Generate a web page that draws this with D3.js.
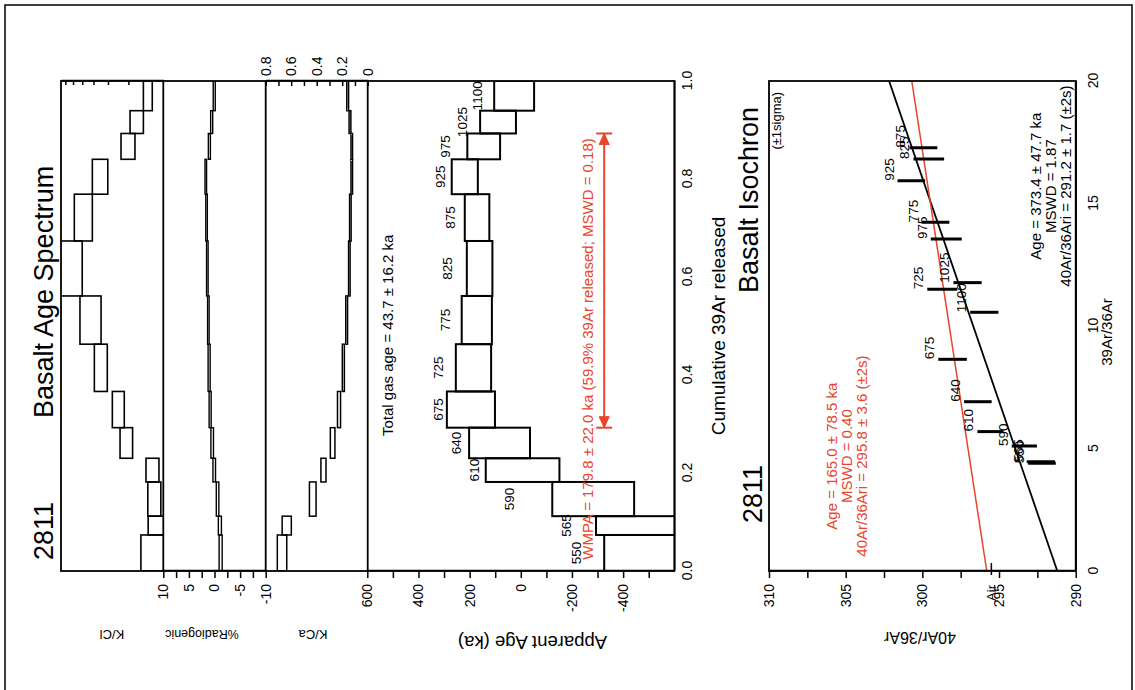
<!DOCTYPE html>
<html>
<head>
<meta charset="utf-8">
<script src="https://cdn.jsdelivr.net/npm/d3@7"></script>
<style>
  body { margin: 0; background: #fff; }
  svg { display: block; font-family: 'Liberation Sans', Arial, sans-serif; }
</style>
</head>
<body>
<div id="chart"></div>
<script>
// Heating steps (deg C) and their 39Ar share (%)
const steps = ['550', '565', '590', '610', '640', '675', '725', '775', '825', '875', '925', '975', '1025', '1100'];
const pct39Ar = [7.35, 3.84, 6.98, 4.84, 6.24, 7.39, 9.65, 9.84, 11.22, 9.55, 7.12, 5.27, 4.65, 6.06];

// Apparent age (ka) and 2s error, plus the age where each step label sits
const ageKa = [-700, -650, -283, -7, 83, 195, 185, 172, 161, 171, 219, 145, 89, 26];
const ageErr = [374, 356, 160, 144, 119, 94, 69, 59, 50, 48, 51, 64, 70, 78];
const labelKa = [-235, -196, 26, 163, 234, 304, 304, 276, 269, 257, 296, 277, 210, 151];

// K/Cl, %Radiogenic, K/Ca
const kclVal = [12.3, 11.5, 12.05, 12.5, 21.0, 24.6, 34.85, 43.35, 70, 49.7, 35.5, 20.35, 17.1, 13.65];
const kclErr = [3.3, 2.0, 1.55, 1.6, 2.6, 2.9, 4.45, 8.95, 20, 8.8, 5.4, 2.8, 2.25, 1.2];
const radVal = [-1.2, -1.05, -0.6, 0.05, 0.45, 0.85, 1.05, 1.2, 1.4, 1.55, 1.7, 1.0, 0.55, 0.05];
const radErr = [0.3, 0.3, 0.25, 0.25, 0.25, 0.2, 0.2, 0.15, 0.15, 0.15, 0.15, 0.2, 0.2, 0.2];
const kcaVal = [0.672, 0.635, 0.431, 0.347, 0.275, 0.225, 0.191, 0.165, 0.144, 0.136, 0.125, 0.125, 0.139, 0.157];
const kcaErr = [0.037, 0.036, 0.026, 0.020, 0.018, 0.012, 0.008, 0.007, 0.006, 0.006, 0.006, 0.006, 0.007, 0.007];

// Isochron points: 39Ar/36Ar, 40Ar/36Ar and error
const iso39 = [4.40, 4.46, 5.10, 5.69, 6.91, 8.64, 11.50, 14.23, 16.82, 17.28, 15.93, 13.55, 11.77, 10.56];
const iso40 = [292.2, 292.27, 293.35, 295.56, 296.38, 298.03, 298.70, 299.14, 299.58, 299.93, 300.72, 298.44, 297.05, 295.96];
const iso40Err = [0.9, 0.92, 0.82, 0.85, 0.90, 0.93, 0.98, 0.90, 1.00, 0.91, 0.90, 1.01, 0.92, 0.92];

// Isochron fits [intercept, slope]
const fitAll = [291.2, 0.5485];
const fitPlateau = [295.8, 0.2445];
const airRatio = 295.5;

// Plateau (first and last step) and annotations
const plateauSteps = ['675', '975'];
const plateauArrowKa = -326;
const wmpaText = 'WMPA = 179.8 \u00b1 22.0 ka (59.9% 39Ar released; MSWD = 0.18)';
const totalGasText = 'Total gas age = 43.7 \u00b1 16.2 ka';
const blackStats = ['Age = 373.4 \u00b1 47.7 ka', 'MSWD = 1.87', '40Ar/36Ari = 291.2 \u00b1 1.7 (\u00b12s)'];
const redStats = ['Age = 165.0 \u00b1 78.5 ka', 'MSWD = 0.40', '40Ar/36Ari = 295.8 \u00b1 3.6 (\u00b12s)'];

const RED = '#e8452c';
const W = 1135, H = 690;

const svg = d3.select('#chart').append('svg')
    .attr('width', W)
    .attr('height', H);

// outer frame
svg.append('path')
    .attr('d', `M5,${H} V5 H1132 V${H}`)
    .attr('fill', 'none')
    .attr('stroke', '#000')
    .attr('stroke-width', 1.5);

// the whole figure is drawn upright and turned a quarter turn
const g = svg.append('g').attr('transform', `translate(0,${H}) rotate(-90)`);

// cumulative 39Ar
const cumEnd = Array.from(d3.cumsum(pct39Ar), d => d / 100);
const cumStart = [0, ...cumEnd.slice(0, -1)];

// Scales (upright frame: x along 39Ar, y down the page)
const x = d3.scaleLinear().domain([0, 1]).range([119, 609]);
const yAge = d3.scaleLinear().domain([600, -600]).range([367.3, 674.3]);
const yKcl = d3.scaleLog().domain([76.2, 10]).range([61, 163.3]);
const yRad = d3.scaleLinear().domain([10, -10]).range([163.3, 265.7]);
const yKca = d3.scaleLinear().domain([0.8, 0]).range([265.7, 367.7]);
const xIso = d3.scaleLinear().domain([0, 20]).range([119, 609]);
const yIso = d3.scaleLinear().domain([310, 290]).range([769, 1075.7]);

const defs = svg.append('defs');
function clip(id, y0, y1) {
    defs.append('clipPath').attr('id', id)
        .append('rect')
        .attr('x', 119).attr('y', y0)
        .attr('width', 490).attr('height', y1 - y0);
    return `url(#${id})`;
}

function styleAxis(sel, fs) {
    sel.attr('font-size', fs).attr('font-family', null);
    sel.selectAll('line, path').attr('stroke', '#000').attr('stroke-width', 1.5);
    sel.selectAll('text').attr('fill', '#000');
}

// step boxes for a panel
function boxes(cls, vals, errs, yScale, clipUrl, sw, fill) {
    g.append('g')
        .attr('clip-path', clipUrl)
        .selectAll('.' + cls)
        .data(steps)
        .enter()
        .append('rect')
        .attr('class', cls)
        .attr('x', (d, i) => x(cumStart[i]))
        .attr('width', (d, i) => x(cumEnd[i]) - x(cumStart[i]))
        .attr('y', (d, i) => yScale(vals[i] + errs[i]))
        .attr('height', (d, i) => yScale(vals[i] - errs[i]) - yScale(vals[i] + errs[i]))
        .attr('fill', fill || 'none')
        .attr('stroke', '#000')
        .attr('stroke-width', sw);
}

boxes('kcl', kclVal, kclErr, yKcl, clip('clipKcl', 61, 163.3), 1.6);
boxes('rad', radVal, radErr, yRad, clip('clipRad', 163.3, 265.7), 1.4);
boxes('kca', kcaVal, kcaErr, yKca, clip('clipKca', 265.7, 367.7), 1.5);
boxes('age', ageKa, ageErr, yAge, clip('clipAge', 367.7, 674.3), 2);

// panel frames
g.append('rect')
    .attr('x', 119).attr('y', 61)
    .attr('width', 490).attr('height', 674.3 - 61)
    .attr('fill', 'none').attr('stroke', '#000').attr('stroke-width', 1.8);
[163.3, 265.7, 367.7].forEach(yy => {
    g.append('line')
        .attr('x1', 119).attr('x2', 609)
        .attr('y1', yy).attr('y2', yy)
        .attr('stroke', '#000').attr('stroke-width', 1.8);
});

// Axes
g.append('g')
    .attr('transform', 'translate(119,0)')
    .call(d3.axisLeft(yAge)
        .tickValues(d3.range(-500, 601, 100))
        .tickFormat(d => d % 200 === 0 ? d : '')
        .tickSize(7).tickSizeOuter(0).tickPadding(6))
    .call(s => styleAxis(s, 14));

g.append('g')
    .attr('transform', 'translate(119,0)')
    .call(d3.axisLeft(yRad)
        .tickValues(d3.range(-10, 10.1, 2.5))
        .tickFormat(d => d % 5 === 0 ? d : '')
        .tickSize(7).tickSizeOuter(0).tickPadding(6))
    .call(s => styleAxis(s, 14));

g.append('g')
    .attr('transform', 'translate(609,0)')
    .call(d3.axisRight(yKca)
        .tickValues(d3.range(0, 9).map(d => d / 10))
        .tickFormat(d => Math.round(d * 10) % 2 === 0 ? (d === 0 ? '0' : d3.format('.1f')(d)) : '')
        .tickSize(-5).tickSizeOuter(0).tickPadding(5))
    .call(s => styleAxis(s, 14));

g.append('g')
    .attr('transform', 'translate(609,0)')
    .call(d3.axisRight(yKcl)
        .tickValues([20, 30, 40, 50, 60, 70])
        .tickFormat('')
        .tickSize(-4).tickSizeOuter(0))
    .call(s => styleAxis(s, 14));

g.append('g')
    .attr('transform', 'translate(0,674.3)')
    .call(d3.axisBottom(x)
        .tickValues([0, 0.2, 0.4, 0.6, 0.8, 1])
        .tickFormat(d3.format('.1f'))
        .tickSize(0).tickPadding(8))
    .call(s => styleAxis(s, 14));

// step labels
g.append('g')
    .selectAll('.step-label')
    .data(steps)
    .enter()
    .append('text')
    .attr('class', 'step-label')
    .attr('x', (d, i) => x((cumStart[i] + cumEnd[i]) / 2))
    .attr('y', (d, i) => yAge(labelKa[i]))
    .attr('text-anchor', 'middle')
    .attr('font-size', 13.5)
    .text(d => d);

// plateau arrow
const p0 = cumStart[steps.indexOf(plateauSteps[0])];
const p1 = cumEnd[steps.indexOf(plateauSteps[1])];
const ay = yAge(plateauArrowKa);
const arrow = g.append('g').attr('stroke', RED).attr('fill', RED);
arrow.append('line')
    .attr('x1', x(p0)).attr('x2', x(p1))
    .attr('y1', ay).attr('y2', ay)
    .attr('stroke-width', 2);
[[x(p0), 1], [x(p1), -1]].forEach(([tx, dir]) => {
    arrow.append('path')
        .attr('d', `M${tx},${ay} L${tx + dir * 11},${ay - 5} L${tx + dir * 11},${ay + 5} Z`)
        .attr('stroke-width', 1);
    arrow.append('line')
        .attr('x1', tx).attr('x2', tx)
        .attr('y1', ay - 8).attr('y2', ay + 8)
        .attr('stroke-width', 2);
});

g.append('text')
    .attr('x', x(0.023)).attr('y', yAge(-282))
    .attr('font-size', 15)
    .attr('fill', RED)
    .text(wmpaText);

g.append('text')
    .attr('x', x(0.2755)).attr('y', yAge(500))
    .attr('font-size', 15)
    .text(totalGasText);

// titles and axis names
function text(tx, ty, str, fs, opts = {}) {
    const t = g.append('text')
        .attr('font-size', fs)
        .attr('fill', opts.color || '#000')
        .attr('text-anchor', opts.anchor || 'start')
        .text(str);
    if (opts.turn) t.attr('transform', `translate(${tx},${ty}) rotate(-90)`);
    else t.attr('x', tx).attr('y', ty);
    return t;
}

text(130, 53, '2811', 27);
text(272, 53, 'Basalt Age Spectrum', 27);
text(x(0.5), 725, 'Cumulative 39Ar released', 19, { anchor: 'middle' });
text(54, 532.5, 'Apparent Age (ka)', 18.5, { anchor: 'middle', turn: true });
text(60, 112, 'K/Cl', 13, { anchor: 'middle', turn: true });
text(60, 202, '%Radiogenic', 12.5, { anchor: 'middle', turn: true });
text(60, 313, 'K/Ca', 13, { anchor: 'middle', turn: true });

// Isochron
defs.append('clipPath').attr('id', 'clipIso')
    .append('rect')
    .attr('x', 119).attr('y', 769)
    .attr('width', 490).attr('height', 1075.7 - 769);

const iso = g.append('g').attr('clip-path', 'url(#clipIso)');
[[fitAll, '#000', 1.8], [fitPlateau, RED, 1.5]].forEach(([fit, col, sw]) => {
    iso.append('line')
        .attr('x1', xIso(0)).attr('y1', yIso(fit[0]))
        .attr('x2', xIso(20)).attr('y2', yIso(fit[0] + fit[1] * 20))
        .attr('stroke', col)
        .attr('stroke-width', sw);
});

iso.selectAll('.bar')
    .data(steps)
    .enter()
    .append('line')
    .attr('class', 'bar')
    .attr('x1', (d, i) => xIso(iso39[i]))
    .attr('x2', (d, i) => xIso(iso39[i]))
    .attr('y1', (d, i) => yIso(iso40[i] - iso40Err[i]))
    .attr('y2', (d, i) => yIso(iso40[i] + iso40Err[i]))
    .attr('stroke', '#000')
    .attr('stroke-width', 3);

g.append('g')
    .selectAll('.iso-label')
    .data(steps)
    .enter()
    .append('text')
    .attr('class', 'iso-label')
    .attr('x', (d, i) => xIso(iso39[i]))
    .attr('y', (d, i) => yIso(iso40[i] + iso40Err[i]) - 4)
    .attr('font-size', 13.5)
    .text(d => d);

g.append('rect')
    .attr('x', 119).attr('y', 769)
    .attr('width', 490).attr('height', 1075.7 - 769)
    .attr('fill', 'none').attr('stroke', '#000').attr('stroke-width', 1.8);

g.append('g')
    .attr('transform', 'translate(119,0)')
    .call(d3.axisLeft(yIso)
        .tickValues(d3.range(290, 310.1, 2.5))
        .tickFormat(d => d % 5 === 0 ? d : '')
        .tickSize(7).tickSizeOuter(0).tickPadding(6))
    .call(s => styleAxis(s, 14));

g.append('g')
    .attr('transform', 'translate(0,1075.7)')
    .call(d3.axisBottom(xIso)
        .tickValues([0, 5, 10, 15, 20])
        .tickSize(0).tickPadding(12))
    .call(s => styleAxis(s, 14));

// atmospheric ratio marker
g.append('line')
    .attr('x1', xIso(0) - 4).attr('x2', xIso(0) + 8)
    .attr('y1', yIso(airRatio)).attr('y2', yIso(airRatio))
    .attr('stroke', '#000').attr('stroke-width', 1.5);
text(105, yIso(airRatio), 'Air', 13, { anchor: 'end' }).attr('dy', '0.32em');

text(167, 762, '2811', 27);
text(397, 758, 'Basalt Isochron', 27);
text(xIso(17.2), yIso(309.2), '(\u00b11sigma)', 13);
text(58, 920, '40Ar/36Ar', 16, { anchor: 'middle', turn: true });
text(358, 1112, '39Ar/36Ar', 15, { anchor: 'middle' });

redStats.forEach((s, i) => {
    text(xIso(4.69), yIso(305.56) + i * 15, s, 15, { anchor: 'middle', color: RED });
});
blackStats.forEach((s, i) => {
    text(xIso(15.71), yIso(292.26) + i * 15, s, 15, { anchor: 'middle' });
});
</script>
</body>
</html>
